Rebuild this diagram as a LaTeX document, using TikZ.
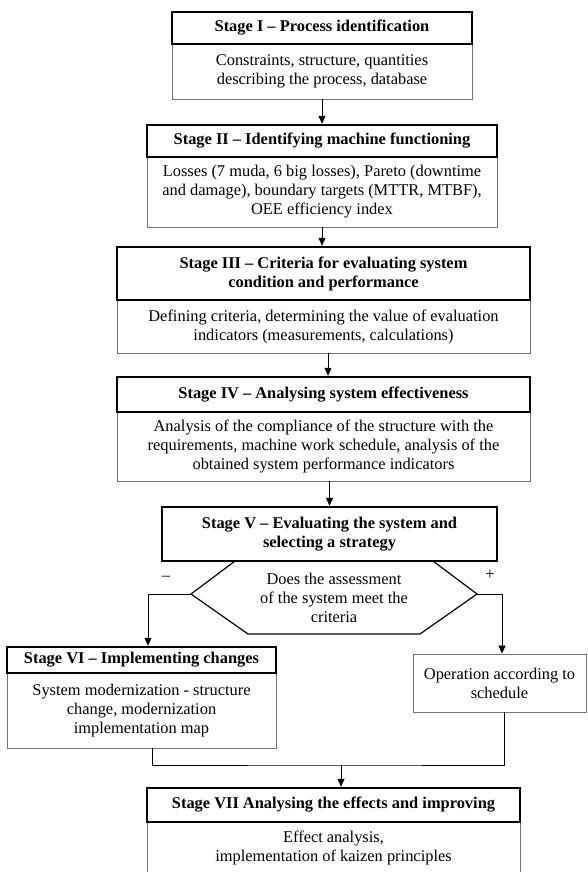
\documentclass[tikz,border=0pt]{standalone}
\usepackage{fontspec}
\setmainfont{Liberation Serif}
\usetikzlibrary{arrows.meta}

\tikzset{
  hdr/.style={draw, line width=2.4pt, font=\fontsize{16.4}{19}\selectfont\bfseries, align=center, inner sep=0pt},
  body/.style={draw=black!55, line width=0.9pt, align=center, inner sep=0pt, font=\fontsize{16.4}{19}\selectfont},
  link/.style={-{Triangle[length=8pt,width=7pt]}, line width=0.8pt}
}

\begin{document}
\begin{tikzpicture}[x=1pt, y=-1pt]
  \useasboundingbox (0,0) rectangle (587,872);
  \clip (0,0) rectangle (587,872);

  % stage I
  \node[body, minimum width=300pt, minimum height=55pt] (s1b) at (322,71.5)
    {Constraints, structure, quantities\\describing the process, database};
  \node[hdr, minimum width=300pt, minimum height=32pt] (s1h) at (322,28)
    {Stage I -- Process identification};

  % stage II
  \node[body, minimum width=350pt, minimum height=70pt] (s2b) at (322,192)
    {Losses (7 muda, 6 big losses), Pareto (downtime\\and damage), boundary targets (MTTR, MTBF),\\OEE efficiency index};
  \node[hdr, minimum width=350pt, minimum height=32pt] (s2h) at (322,141)
    {Stage II -- Identifying machine functioning};

  % stage III
  \node[body, minimum width=413pt, minimum height=53pt] (s3b) at (323.5,326.5)
    {Defining criteria, determining the value of evaluation\\indicators (measurements, calculations)};
  \node[hdr, minimum width=413pt, minimum height=53pt] (s3h) at (323.5,273.5)
    {Stage III -- Criteria for evaluating system\\condition and performance};

  % stage IV
  \node[body, minimum width=413pt, minimum height=69pt] (s4b) at (323.5,446.5)
    {Analysis of the compliance of the structure with the\\requirements, machine work schedule, analysis of the\\obtained system performance indicators};
  \node[hdr, minimum width=413pt, minimum height=35pt] (s4h) at (323.5,394.5)
    {Stage IV -- Analysing system effectiveness};

  % stage V and decision
  \draw[line width=1.2pt] (235,561) -- (433,561) -- coordinate[pos=1] (hexR) (477,594)
    -- (420,634) -- (248,634) -- (191,594) coordinate (hexL) -- cycle;
  \node[font=\fontsize{16.4}{19}\selectfont, align=center] (crit) at (334,598)
    {Does the assessment\\of the system meet the\\criteria};
  \node[hdr, minimum width=335pt, minimum height=54pt] (s5h) at (329.5,534)
    {Stage V -- Evaluating the system and\\selecting a strategy};
  \node[font=\fontsize{16.4}{19}\selectfont] (minus) at (166,578) {--};
  \node[font=\fontsize{16.4}{19}\selectfont] (plus) at (490,575) {+};

  % stage VI
  \node[body, minimum width=269pt, minimum height=75pt] (s6b) at (141.5,710.5)
    {System modernization - structure\\change, modernization\\implementation map};
  \node[hdr, minimum width=269pt, minimum height=26pt] (s6h) at (141.5,660)
    {Stage VI -- Implementing changes};

  % operation
  \node[body, minimum width=173pt, minimum height=58pt] (op) at (499.5,683)
    {Operation according to\\schedule};

  % stage VII
  \node[body, minimum width=373pt, minimum height=52pt] (s7b) at (333.5,848)
    {Effect analysis,\\implementation of kaizen principles};
  \node[hdr, minimum width=373pt, minimum height=34pt] (s7h) at (333.5,805)
    {Stage VII Analysing the effects and improving};

  % connectors
  \draw[link] (s1b.south) -- (s1h.north |- s2h.north);
  \draw[link] (s2b.south) -- (s2b.south |- s3h.north);
  \draw[link] ([xshift=4.5pt]s3b.south) -- ([xshift=4.5pt]s4h.north);
  \draw[link] (s4b.south -| s5h.north) -- (s5h.north);
  \draw[link] (hexL) -| ([xshift=6.5pt]s6h.north);
  \draw[link] (hexR) -| ([xshift=2.5pt]op.north);
  \coordinate (join) at (341,765);
  \draw[line width=0.8pt] ([xshift=10.5pt]s6b.south) |- (join) -| ([xshift=4.5pt]op.south);
  \draw[link] (join) -- (join |- s7h.north);
\end{tikzpicture}
\end{document}
